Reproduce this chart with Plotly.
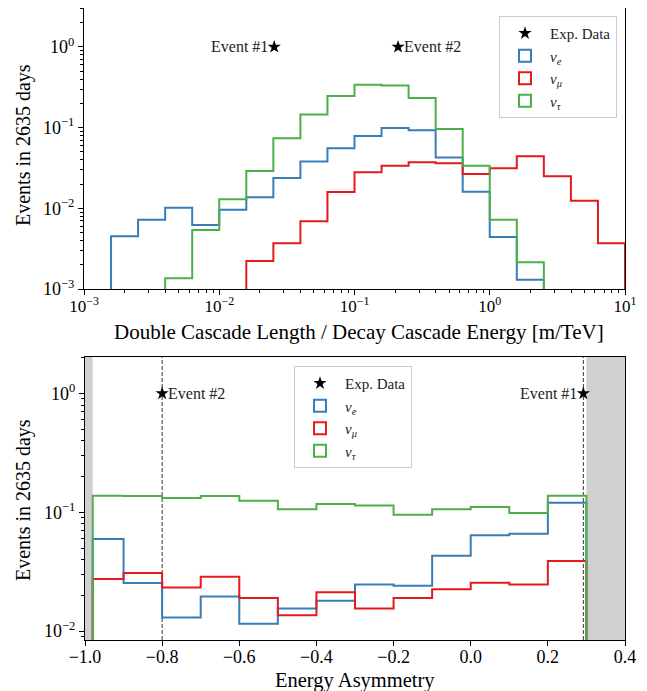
import math
import plotly.graph_objects as go

# ---------------- data: top panel (log-binned) ----------------
top_bin_exponents = [-3.0, -2.8, -2.6, -2.4, -2.2, -2.0, -1.8, -1.6, -1.4, -1.2, -1.0,
                     -0.8, -0.6, -0.4, -0.2, 0.0, 0.2, 0.4, 0.6, 0.8, 1.0]
top_nu_e = [0, 0.0045, 0.0072, 0.0102, 0.0062, 0.0096, 0.0137, 0.0238, 0.038, 0.0555,
            0.079, 0.099, 0.093, 0.0425, 0.0161, 0.0044, 0.0013, 0, 0, 0]
top_nu_mu = [0, 0, 0, 0, 0, 0, 0.00222, 0.0037, 0.0069, 0.0159,
             0.028, 0.0338, 0.0372, 0.0361, 0.0267, 0.0313, 0.0441, 0.0249, 0.0124, 0.00368]
top_nu_tau = [0, 0, 0, 0.00136, 0.0054, 0.013, 0.029, 0.074, 0.145, 0.247,
              0.341, 0.332, 0.233, 0.096, 0.0338, 0.0072, 0.00214, 0, 0, 0]
top_event_x = [0.0255, 0.21]
top_event_y = [1.0, 1.0]
top_event_labels = ["Event #1", "Event #2"]

# ---------------- data: bottom panel ----------------
bot_edges = [-0.98, -0.9, -0.8, -0.7, -0.6, -0.5, -0.4, -0.3, -0.2, -0.1, 0.0, 0.1, 0.2, 0.3]
bot_nu_e = [0.0596, 0.0254, 0.0130, 0.0195, 0.01153, 0.0155, 0.018, 0.0247, 0.0241,
            0.0431, 0.064, 0.066, 0.12]
bot_nu_mu = [0.0274, 0.0308, 0.0232, 0.0287, 0.019, 0.0136, 0.0212, 0.0155, 0.019,
             0.0225, 0.0255, 0.0247, 0.0389]
bot_nu_tau = [0.138, 0.137, 0.132, 0.137, 0.125, 0.106, 0.1175, 0.1138, 0.0955,
              0.106, 0.111, 0.0987, 0.138]
bot_event_x = [-0.8, 0.292]
bot_event_y = [1.0, 1.0]
bot_event_labels = ["Event #2", "Event #1"]
bot_excluded = [(-1.0, -0.98), (0.3, 0.4)]

top_xticks_exp = [-3, -2, -1, 0, 1]
top_yticks_exp = [-3, -2, -1, 0]
bot_yticks_exp = [-2, -1, 0]
bot_xticks = [-1.0, -0.8, -0.6, -0.4, -0.2, 0.0, 0.2, 0.4]

colors = {"e": "#377eb8", "mu": "#e41a1c", "tau": "#4daf4a"}
FONT = "Liberation Serif"
FLOOR = 1e-7

# page body adds an 8px offset; size the figure to fit the window
OFF = 8
W, H = 647 - OFF, 691 - OFF
ML, MT = 84 - OFF, 8 - OFF
MR = W - (625 - OFF)
MB = H - (640 - OFF)
PW, PH = W - ML - MR, H - MT - MB


def px(xp):
    return (xp - OFF - ML) / PW


def py(yp):
    return 1 - (yp - OFF - MT) / PH


def step_path(edges, vals):
    nz = [i for i, v in enumerate(vals) if v > 0]
    i0, i1 = nz[0], nz[-1]
    xs, ys = [edges[i0]], [FLOOR]
    for i in range(i0, i1 + 1):
        v = vals[i] if vals[i] > 0 else FLOOR
        xs += [edges[i], edges[i + 1]]
        ys += [v, v]
    xs.append(edges[i1 + 1])
    ys.append(FLOOR)
    return xs, ys


def pow_label(e):
    s = str(e).replace("-", "\u2212")
    return f"10<sup>{s}</sup>"


fig = go.Figure()

top_edges = [10 ** e for e in top_bin_exponents]
series = [("e", "<i>ν</i><sub><i>e</i></sub>", top_nu_e, bot_nu_e),
          ("mu", "<i>ν</i><sub><i>μ</i></sub>", top_nu_mu, bot_nu_mu),
          ("tau", "<i>ν</i><sub><i>τ</i></sub>", top_nu_tau, bot_nu_tau)]

panels = [("x", "y", "legend", top_edges), ("x2", "y2", "legend2", bot_edges)]
for xa, ya, lg, edges in panels:
    for rank, (key, name, tv, bv) in enumerate(series, start=2):
        vals = tv if xa == "x" else bv
        xs, ys = step_path(edges, vals)
        fig.add_trace(go.Scatter(x=xs, y=ys, mode="lines",
                                 line=dict(color=colors[key], width=2),
                                 name=name, showlegend=False,
                                 xaxis=xa, yaxis=ya, hoverinfo="skip"))
        # legend entry: outlined box like matplotlib's step-hist patch
        fig.add_trace(go.Bar(x=[None], y=[None], name=name, legend=lg, legendrank=rank,
                             marker=dict(color="rgba(0,0,0,0)",
                                         line=dict(color=colors[key], width=2)),
                             xaxis=xa, yaxis=ya, hoverinfo="skip"))

fig.add_trace(go.Scatter(x=top_event_x, y=top_event_y, mode="markers",
                         marker=dict(symbol="star", size=10, color="black"),
                         name="Exp. Data", legend="legend", legendrank=1,
                         xaxis="x", yaxis="y"))
fig.add_trace(go.Scatter(x=bot_event_x, y=bot_event_y, mode="markers",
                         marker=dict(symbol="star", size=10, color="black"),
                         name="Exp. Data", legend="legend2", legendrank=1,
                         xaxis="x2", yaxis="y2"))

shapes = []
annotations = []
for ex in top_event_x:
    lx = math.log10(ex)
    shapes.append(dict(type="line", xref="x", yref="y domain", x0=lx, x1=lx, y0=0, y1=1,
                       line=dict(color="#333333", width=1, dash="4px,2px"), layer="below"))
for i, (ex, lab) in enumerate(zip(top_event_x, top_event_labels)):
    left = i == 0
    annotations.append(dict(x=math.log10(ex), y=math.log10(top_event_y[i]), xref="x", yref="y",
                            text=lab, showarrow=False,
                            xanchor="right" if left else "left",
                            xshift=-4 if left else 4,
                            font=dict(family=FONT, size=16, color="#222")))
for ex in bot_event_x:
    shapes.append(dict(type="line", xref="x2", yref="y2 domain", x0=ex, x1=ex, y0=0, y1=1,
                       line=dict(color="#333333", width=1, dash="4px,2px"), layer="below"))
for i, (ex, lab) in enumerate(zip(bot_event_x, bot_event_labels)):
    left = i == 1
    annotations.append(dict(x=ex, y=math.log10(bot_event_y[i]), xref="x2", yref="y2",
                            text=lab, showarrow=False,
                            xanchor="right" if left else "left",
                            xshift=-4 if left else 4,
                            font=dict(family=FONT, size=16, color="#222")))
for a, b in bot_excluded:
    shapes.append(dict(type="rect", xref="x2", yref="y2 domain", x0=a, x1=b, y0=0, y1=1,
                       fillcolor="#d0d0d0", line=dict(width=0), layer="below"))

# axis titles
annotations += [
    dict(text="Double Cascade Length / Decay Cascade Energy [m/TeV]", xref="paper", yref="paper",
         x=px(359), y=py(332), showarrow=False, xanchor="center", yanchor="middle",
         font=dict(family=FONT, size=21, color="black")),
    dict(text="Energy Asymmetry", xref="paper", yref="paper",
         x=px(355), y=py(681), showarrow=False, xanchor="center", yanchor="middle",
         font=dict(family=FONT, size=20.5, color="black")),
    dict(text="Events in 2635 days", xref="paper", yref="paper", textangle=-90,
         x=px(23), y=py(145), showarrow=False, xanchor="center", yanchor="middle",
         font=dict(family=FONT, size=20, color="black")),
    dict(text="Events in 2635 days", xref="paper", yref="paper", textangle=-90,
         x=px(23), y=py(500), showarrow=False, xanchor="center", yanchor="middle",
         font=dict(family=FONT, size=20, color="black")),
]

minor_log = [k * 10 ** e for e in range(-4, 2) for k in range(2, 10)]

axis_common = dict(showline=True, mirror=True, linecolor="black", linewidth=1,
                   ticks="outside", ticklen=5, tickwidth=1, tickcolor="black",
                   showgrid=False, zeroline=False, automargin=False,
                   layer="above traces",
                   tickfont=dict(family=FONT, size=18, color="black"))
minor_common = dict(ticks="outside", ticklen=3, tickcolor="black",
                    tickmode="array", tickvals=minor_log, showgrid=False)

legend_common = dict(bgcolor="white", bordercolor="#cccccc", borderwidth=1,
                     tracegroupgap=0, itemwidth=40,
                     font=dict(family=FONT, size=15, color="#222"))

fig.update_layout(
    width=W, height=H,
    margin=dict(l=ML, r=MR, t=MT, b=MB, autoexpand=False),
    paper_bgcolor="white", plot_bgcolor="white",
    showlegend=True, barmode="overlay",
    xaxis=dict(type="log", domain=[0, 1], anchor="y",
               range=[-3, 1], tickmode="array",
               tickvals=[10 ** e for e in top_xticks_exp],
               ticktext=[pow_label(e) for e in top_xticks_exp],
               ticklabelstandoff=-3,
               minor=minor_common, **axis_common),
    yaxis=dict(type="log", domain=[py(289), 1], anchor="x",
               range=[-3, math.log10(3.04)], tickmode="array",
               tickvals=[10 ** e for e in top_yticks_exp],
               ticktext=[pow_label(e) for e in top_yticks_exp],
               minor=minor_common, **axis_common),
    xaxis2=dict(type="linear", domain=[px(85), 1], anchor="y2",
                range=[-1.0, 0.4], tickmode="array", tickvals=bot_xticks,
                ticktext=[f"{v:.1f}".replace("-", "\u2212") for v in bot_xticks],
                ticklabelstandoff=-5,
                **axis_common),
    yaxis2=dict(type="log", domain=[0, py(357)], anchor="x2",
                range=[math.log10(0.0084), math.log10(2.03)], tickmode="array",
                tickvals=[10 ** e for e in bot_yticks_exp],
                ticktext=[pow_label(e) for e in bot_yticks_exp],
                minor=minor_common, **axis_common),
    legend=dict(x=px(617), y=py(16), xanchor="right", yanchor="top", **legend_common),
    legend2=dict(x=px(294), y=py(366), xanchor="left", yanchor="top", **legend_common),
    shapes=shapes,
    annotations=annotations,
)
fig.update_xaxes(tickfont_size=17, selector=dict(type="log"))

fig.write_html("out.html")
